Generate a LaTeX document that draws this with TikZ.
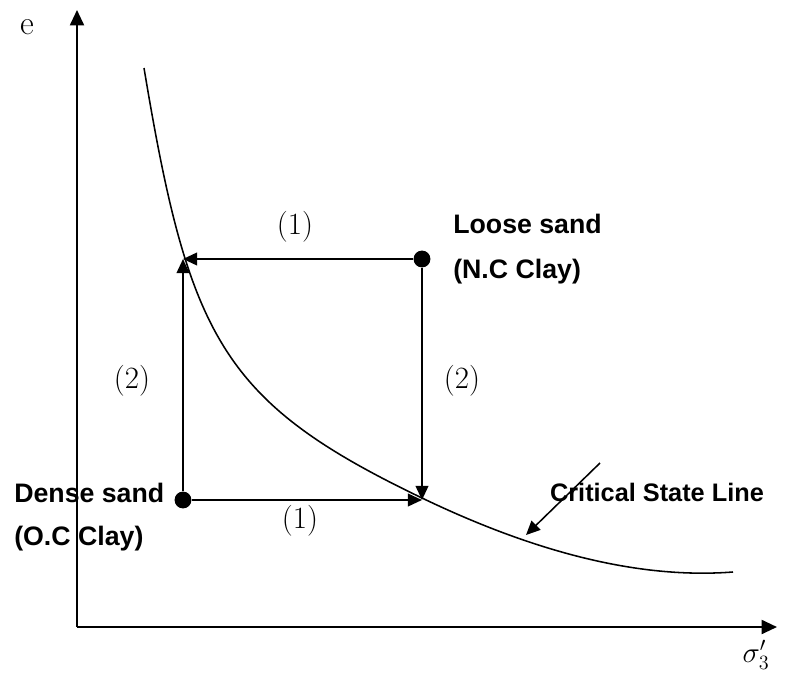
\documentclass[tikz,border=0pt]{standalone}
\usepackage{fontspec}
\newfontfamily\labelfont{Liberation Sans}
\usetikzlibrary{arrows.meta}
\tikzset{
  axis/.style={-{Triangle[length=11pt,width=10pt]}, line width=1.5pt},
  arrow/.style={-{Triangle[length=10pt,width=9pt]}, line width=1.3pt},
  slimarrow/.style={-{Triangle[length=10pt,width=9pt]}, line width=1.1pt},
  curve/.style={line width=1.1pt},
  dot/.style={circle, fill, inner sep=0pt, minimum size=12pt},
  pathlabel/.style={font=\fontsize{22}{26}\selectfont},
  soil/.style={font=\labelfont\bfseries\fontsize{19}{22}\selectfont, inner sep=0pt, anchor=west},
  axislabel/.style={font=\fontsize{24}{28}\selectfont, inner sep=0pt}
}
\begin{document}
\begin{tikzpicture}[x=0.025cm,y=-0.025cm]
  \useasboundingbox (0,0) rectangle (804,678);

  \coordinate (origin) at (77,627);
  \coordinate (ytip) at (77,10);
  \coordinate (xtip) at (777,627);
  \coordinate (tl) at (183,259);
  \coordinate (br) at (422,500);
  \coordinate (cslfrom) at (600,463);
  \coordinate (csl) at (526,535);

  \node[dot] (loose) at (422,259) {};
  \node[dot] (dense) at (183,500) {};

  \node[axislabel] (elabel) at (27,27) {e};
  \node[axislabel, font=\fontsize{22}{26}\selectfont] (siglabel) at (756,655) {$\sigma'_3$};

  \node[pathlabel] (topone) at (295,227) {(1)};
  \node[pathlabel] (botone) at (300,521) {(1)};
  \node[pathlabel] (lefttwo) at (132,381) {(2)};
  \node[pathlabel] (righttwo) at (462,381) {(2)};

  \node[soil] (loosename) at (453,224) {Loose sand};
  \node[soil] (looseclay) at (453,272) {(N.C Clay)};
  \node[soil] (densename) at (14,493) {Dense sand};
  \node[soil] (denseclay) at (14,539) {(O.C Clay)};
  \node[soil, anchor=center, font=\labelfont\bfseries\fontsize{18}{21}\selectfont] (cslname) at (657,492) {Critical State Line};

  \draw[axis] (origin) -- (ytip);
  \draw[axis] (origin) -- (xtip);

  \draw[curve] (144,68) .. controls (189,338) and (222,402) .. (422,498)
    .. controls (522,546) and (630,580) .. (733,572);

  \draw[arrow] (loose) -- (tl);
  \draw[arrow] (loose) -- (br);
  \draw[arrow] (dense) -- (tl);
  \draw[arrow] (dense) -- (br);
  \draw[slimarrow] (cslfrom) -- (csl);
\end{tikzpicture}
\end{document}
